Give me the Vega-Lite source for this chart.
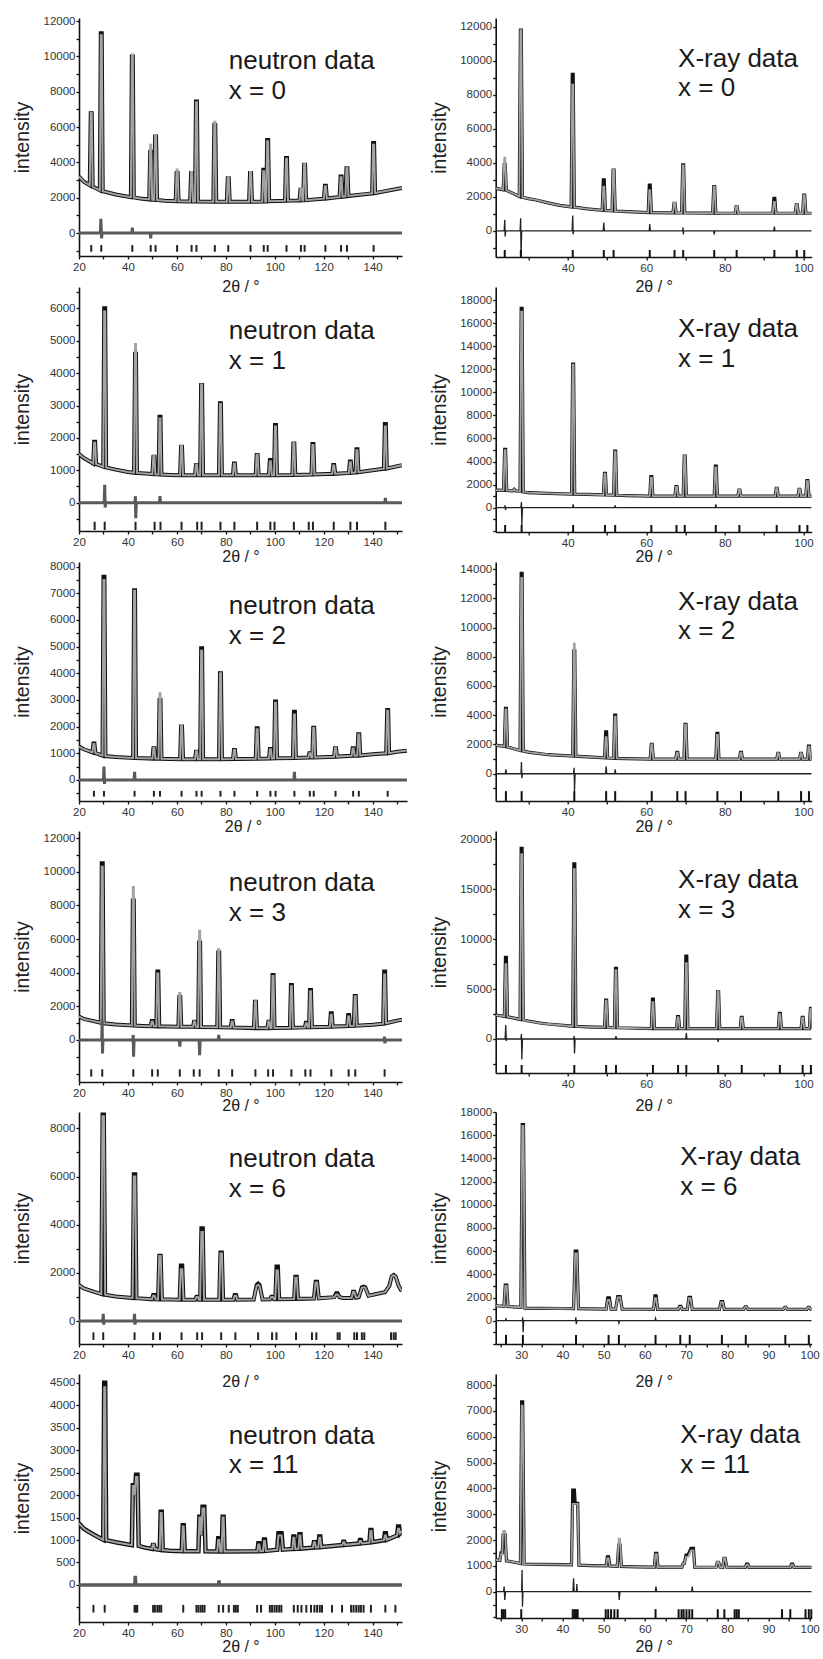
{
"$schema": "https://vega.github.io/schema/vega-lite/v6.json",
"background": "white",
"padding": {"left": 12, "top": 15, "right": 5, "bottom": 5},
"config": {
 "view": {"stroke": null},
 "axis": {"domainColor": "#111", "domainWidth": 1.6, "tickColor": "#111", "tickWidth": 1.3, "tickSize": 3, "labelFont": "Liberation Sans", "labelFontSize": 11.5, "labelColor": "#333", "labelPadding": 1, "labelFlush": false, "labelOverlap": false, "titleFont": "Liberation Sans", "titleFontWeight": "normal", "titleColor": "#222", "grid": false},
 "axisX": {"titleFontSize": 16, "labelPadding": 2, "titleBaseline": "middle"},
 "axisY": {"titleFontSize": 19.5},
 "text": {"font": "Liberation Sans", "fontSize": 26, "color": "#1a1a1a", "align": "left", "baseline": "alphabetic", "lineBreak": "\n", "lineHeight": 29.5}
},
"columns": 2,
"align": "each",
"bounds": "flush",
"spacing": {"row": 30, "column": 88.7},
"datasets": {
"n0": [{"x":20,"o":3200,"c":3200},{"x":22,"o":2900,"c":2900},{"x":24.4,"o":2700,"c":2700},{"x":24.8,"o":6780,"c":6800},{"x":25.2,"o":6780,"c":6800},{"x":25.6,"o":2630,"c":2630},{"x":28.5,"o":2420,"c":2420},{"x":28.9,"o":11300,"c":11200},{"x":29.3,"o":11300,"c":11200},{"x":29.7,"o":2370,"c":2370},{"x":35,"o":2180,"c":2180},{"x":41.2,"o":2030,"c":2030},{"x":41.6,"o":9990,"c":10100},{"x":42,"o":9990,"c":10100},{"x":42.4,"o":2020,"c":2020},{"x":45,"o":1950,"c":1950},{"x":48.7,"o":1900,"c":1900},{"x":49.1,"o":4600,"c":5000},{"x":49.5,"o":4600,"c":5000},{"x":49.9,"o":1890,"c":1890},{"x":50.7,"o":1880,"c":1880},{"x":51.1,"o":5460,"c":5500},{"x":51.5,"o":5460,"c":5500},{"x":51.9,"o":1870,"c":1870},{"x":55,"o":1830,"c":1830},{"x":59.5,"o":1800,"c":1800},{"x":59.9,"o":3400,"c":3600},{"x":60.3,"o":3400,"c":3600},{"x":60.7,"o":1800,"c":1800},{"x":65.4,"o":1785,"c":1785},{"x":65.8,"o":3400,"c":3450},{"x":66.2,"o":3400,"c":3450},{"x":66.6,"o":1785,"c":1785},{"x":67.4,"o":1783,"c":1783},{"x":67.8,"o":7440,"c":7400},{"x":68.2,"o":7440,"c":7400},{"x":68.6,"o":1782,"c":1782},{"x":74.9,"o":1775,"c":1775},{"x":75.3,"o":6120,"c":6300},{"x":75.7,"o":6120,"c":6300},{"x":76.1,"o":1775,"c":1775},{"x":80.4,"o":1770,"c":1770},{"x":80.8,"o":3100,"c":3150},{"x":81.2,"o":3100,"c":3150},{"x":81.6,"o":1770,"c":1770},{"x":89.5,"o":1770,"c":1770},{"x":89.9,"o":3400,"c":3450},{"x":90.3,"o":3400,"c":3450},{"x":90.7,"o":1770,"c":1770},{"x":94.9,"o":1785,"c":1785},{"x":95.3,"o":3580,"c":3500},{"x":95.7,"o":3580,"c":3500},{"x":96.1,"o":1790,"c":1790},{"x":96.5,"o":1790,"c":1790},{"x":96.9,"o":5270,"c":5200},{"x":97.3,"o":5270,"c":5200},{"x":97.7,"o":1795,"c":1795},{"x":104.2,"o":1820,"c":1820},{"x":104.6,"o":4240,"c":4200},{"x":105,"o":4240,"c":4200},{"x":105.4,"o":1825,"c":1825},{"x":110.1,"o":1848,"c":1848},{"x":110.5,"o":2450,"c":2500},{"x":110.9,"o":2450,"c":2500},{"x":111.3,"o":1852,"c":1852},{"x":111.6,"o":1855,"c":1855},{"x":112,"o":3860,"c":3900},{"x":112.4,"o":3860,"c":3900},{"x":112.8,"o":1860,"c":1860},{"x":120.1,"o":1945,"c":1945},{"x":120.5,"o":2680,"c":2650},{"x":120.9,"o":2680,"c":2650},{"x":121.3,"o":1955,"c":1955},{"x":126.5,"o":2040,"c":2040},{"x":126.9,"o":3200,"c":3150},{"x":127.3,"o":3200,"c":3150},{"x":127.7,"o":2055,"c":2055},{"x":128.9,"o":2075,"c":2075},{"x":129.3,"o":3670,"c":3700},{"x":129.7,"o":3670,"c":3700},{"x":130.1,"o":2100,"c":2100},{"x":139.8,"o":2245,"c":2245},{"x":140.2,"o":5090,"c":5000},{"x":140.6,"o":5090,"c":5000},{"x":141,"o":2260,"c":2260},{"x":152,"o":2550,"c":2550}],
"x0": [{"x":21.7,"o":2500,"c":2500},{"x":23.6,"o":2420,"c":2420},{"x":23.88,"o":3900,"c":4300},{"x":24.12,"o":3900,"c":4300},{"x":24.4,"o":2390,"c":2390},{"x":27.7,"o":2030,"c":2030},{"x":27.98,"o":11800,"c":11800},{"x":28.22,"o":11800,"c":11800},{"x":28.5,"o":1980,"c":1980},{"x":30,"o":1900,"c":1900},{"x":32,"o":1820,"c":1820},{"x":35,"o":1650,"c":1650},{"x":38,"o":1500,"c":1500},{"x":40.9,"o":1410,"c":1410},{"x":41.18,"o":9200,"c":8600},{"x":41.42,"o":9200,"c":8600},{"x":41.7,"o":1400,"c":1400},{"x":45,"o":1300,"c":1300},{"x":48.8,"o":1210,"c":1210},{"x":49.08,"o":3000,"c":2600},{"x":49.32,"o":3000,"c":2600},{"x":49.6,"o":1200,"c":1200},{"x":51.3,"o":1180,"c":1180},{"x":51.58,"o":3580,"c":3600},{"x":51.82,"o":3580,"c":3600},{"x":52.1,"o":1170,"c":1170},{"x":55,"o":1130,"c":1130},{"x":60.5,"o":1080,"c":1080},{"x":60.78,"o":2700,"c":2400},{"x":61.02,"o":2700,"c":2400},{"x":61.3,"o":1078,"c":1078},{"x":66.8,"o":1060,"c":1060},{"x":67.08,"o":1620,"c":1650},{"x":67.32,"o":1620,"c":1650},{"x":67.6,"o":1058,"c":1058},{"x":69,"o":1055,"c":1055},{"x":69.28,"o":3880,"c":3850},{"x":69.52,"o":3880,"c":3850},{"x":69.8,"o":1054,"c":1054},{"x":76.9,"o":1045,"c":1045},{"x":77.18,"o":2600,"c":2600},{"x":77.42,"o":2600,"c":2600},{"x":77.7,"o":1044,"c":1044},{"x":82.6,"o":1040,"c":1040},{"x":82.88,"o":1430,"c":1450},{"x":83.12,"o":1430,"c":1450},{"x":83.4,"o":1040,"c":1040},{"x":92.2,"o":1040,"c":1040},{"x":92.48,"o":1920,"c":1700},{"x":92.72,"o":1920,"c":1700},{"x":93,"o":1040,"c":1040},{"x":97.9,"o":1040,"c":1040},{"x":98.18,"o":1530,"c":1550},{"x":98.42,"o":1530,"c":1550},{"x":98.7,"o":1040,"c":1040},{"x":99.8,"o":1040,"c":1040},{"x":100.08,"o":2110,"c":2100},{"x":100.32,"o":2110,"c":2100},{"x":100.6,"o":1040,"c":1040},{"x":102.1,"o":1040,"c":1040}],
"n1": [{"x":20,"o":1500,"c":1500},{"x":22,"o":1380,"c":1380},{"x":25.8,"o":1210,"c":1210},{"x":26.2,"o":1880,"c":1850},{"x":26.6,"o":1880,"c":1850},{"x":27,"o":1190,"c":1190},{"x":29.9,"o":1110,"c":1110},{"x":30.3,"o":6000,"c":5900},{"x":30.7,"o":6000,"c":5900},{"x":31.1,"o":1090,"c":1090},{"x":35,"o":1020,"c":1020},{"x":40,"o":950,"c":950},{"x":42.5,"o":925,"c":925},{"x":42.9,"o":4600,"c":4900},{"x":43.3,"o":4600,"c":4900},{"x":43.7,"o":918,"c":918},{"x":47,"o":900,"c":900},{"x":50,"o":882,"c":882},{"x":50.4,"o":1420,"c":1450},{"x":50.8,"o":1420,"c":1450},{"x":51.2,"o":878,"c":878},{"x":52.5,"o":872,"c":872},{"x":52.9,"o":2650,"c":2600},{"x":53.3,"o":2650,"c":2600},{"x":53.7,"o":868,"c":868},{"x":57,"o":858,"c":858},{"x":61.3,"o":850,"c":850},{"x":61.7,"o":1730,"c":1750},{"x":62.1,"o":1730,"c":1750},{"x":62.5,"o":850,"c":850},{"x":67.4,"o":848,"c":848},{"x":67.8,"o":1160,"c":1180},{"x":68.2,"o":1160,"c":1180},{"x":68.6,"o":848,"c":848},{"x":69.5,"o":848,"c":848},{"x":69.9,"o":3630,"c":3650},{"x":70.3,"o":3630,"c":3650},{"x":70.7,"o":847,"c":847},{"x":77.2,"o":846,"c":846},{"x":77.6,"o":3070,"c":3050},{"x":78,"o":3070,"c":3050},{"x":78.4,"o":845,"c":845},{"x":82.9,"o":845,"c":845},{"x":83.3,"o":1210,"c":1200},{"x":83.7,"o":1210,"c":1200},{"x":84.1,"o":845,"c":845},{"x":92.2,"o":847,"c":847},{"x":92.6,"o":1470,"c":1480},{"x":93,"o":1470,"c":1480},{"x":93.4,"o":847,"c":847},{"x":97.6,"o":849,"c":849},{"x":98,"o":1320,"c":1280},{"x":98.4,"o":1320,"c":1280},{"x":98.8,"o":849,"c":849},{"x":99.7,"o":850,"c":850},{"x":100.1,"o":2400,"c":2350},{"x":100.5,"o":2400,"c":2350},{"x":100.9,"o":850,"c":850},{"x":107.2,"o":856,"c":856},{"x":107.6,"o":1830,"c":1850},{"x":108,"o":1830,"c":1850},{"x":108.4,"o":857,"c":857},{"x":115,"o":868,"c":868},{"x":115.4,"o":1810,"c":1780},{"x":115.8,"o":1810,"c":1780},{"x":116.2,"o":870,"c":870},{"x":123.5,"o":890,"c":890},{"x":123.9,"o":1160,"c":1150},{"x":124.3,"o":1160,"c":1150},{"x":124.7,"o":892,"c":892},{"x":130.3,"o":918,"c":918},{"x":130.7,"o":1270,"c":1250},{"x":131.1,"o":1270,"c":1250},{"x":131.5,"o":922,"c":922},{"x":133,"o":935,"c":935},{"x":133.4,"o":1650,"c":1620},{"x":133.8,"o":1650,"c":1620},{"x":134.2,"o":940,"c":940},{"x":140,"o":1000,"c":1000},{"x":144.6,"o":1050,"c":1050},{"x":145,"o":2430,"c":2350},{"x":145.4,"o":2430,"c":2350},{"x":145.8,"o":1058,"c":1058},{"x":152,"o":1160,"c":1160}],
"x1": [{"x":21.7,"o":1530,"c":1530},{"x":23.7,"o":1505,"c":1505},{"x":23.98,"o":5060,"c":5000},{"x":24.22,"o":5060,"c":5000},{"x":24.5,"o":1495,"c":1495},{"x":26,"o":1465,"c":1465},{"x":26.4,"o":1600,"c":1600},{"x":26.8,"o":1455,"c":1455},{"x":27.9,"o":1440,"c":1440},{"x":28.18,"o":17280,"c":17000},{"x":28.42,"o":17280,"c":17000},{"x":28.7,"o":1380,"c":1380},{"x":30,"o":1300,"c":1300},{"x":35,"o":1250,"c":1250},{"x":41,"o":1190,"c":1190},{"x":41.28,"o":12450,"c":12400},{"x":41.52,"o":12450,"c":12400},{"x":41.8,"o":1180,"c":1180},{"x":45,"o":1150,"c":1150},{"x":49.1,"o":1105,"c":1105},{"x":49.38,"o":2980,"c":2950},{"x":49.62,"o":2980,"c":2950},{"x":49.9,"o":1100,"c":1100},{"x":51.7,"o":1085,"c":1085},{"x":51.98,"o":4910,"c":4850},{"x":52.22,"o":4910,"c":4850},{"x":52.5,"o":1080,"c":1080},{"x":55,"o":1050,"c":1050},{"x":60.9,"o":1010,"c":1010},{"x":61.18,"o":2690,"c":2600},{"x":61.42,"o":2690,"c":2600},{"x":61.7,"o":1010,"c":1010},{"x":67.3,"o":1010,"c":1010},{"x":67.58,"o":1820,"c":1800},{"x":67.82,"o":1820,"c":1800},{"x":68.1,"o":1010,"c":1010},{"x":69.4,"o":1010,"c":1010},{"x":69.68,"o":4480,"c":4500},{"x":69.92,"o":4480,"c":4500},{"x":70.2,"o":1010,"c":1010},{"x":77.3,"o":1010,"c":1010},{"x":77.58,"o":3610,"c":3500},{"x":77.82,"o":3610,"c":3500},{"x":78.1,"o":1010,"c":1010},{"x":83.3,"o":1010,"c":1010},{"x":83.58,"o":1530,"c":1550},{"x":83.82,"o":1530,"c":1550},{"x":84.1,"o":1010,"c":1010},{"x":92.8,"o":1010,"c":1010},{"x":93.08,"o":1680,"c":1700},{"x":93.32,"o":1680,"c":1700},{"x":93.6,"o":1010,"c":1010},{"x":98.6,"o":1010,"c":1010},{"x":98.88,"o":1590,"c":1600},{"x":99.12,"o":1590,"c":1600},{"x":99.4,"o":1010,"c":1010},{"x":100.6,"o":1010,"c":1010},{"x":100.88,"o":2340,"c":2300},{"x":101.12,"o":2340,"c":2300},{"x":101.4,"o":1010,"c":1010},{"x":102.1,"o":1010,"c":1010}],
"n2": [{"x":20,"o":1250,"c":1250},{"x":22,"o":1150,"c":1150},{"x":25.5,"o":1030,"c":1030},{"x":25.9,"o":1370,"c":1350},{"x":26.3,"o":1370,"c":1350},{"x":26.7,"o":1010,"c":1010},{"x":29.6,"o":910,"c":910},{"x":30,"o":7620,"c":7500},{"x":30.4,"o":7620,"c":7500},{"x":30.8,"o":895,"c":895},{"x":35,"o":860,"c":860},{"x":42.1,"o":825,"c":825},{"x":42.5,"o":7120,"c":7100},{"x":42.9,"o":7120,"c":7100},{"x":43.3,"o":822,"c":822},{"x":46,"o":812,"c":812},{"x":50,"o":801,"c":801},{"x":50.4,"o":1190,"c":1200},{"x":50.8,"o":1190,"c":1200},{"x":51.2,"o":799,"c":799},{"x":52.5,"o":796,"c":796},{"x":52.9,"o":3000,"c":3250},{"x":53.3,"o":3000,"c":3250},{"x":53.7,"o":794,"c":794},{"x":57,"o":786,"c":786},{"x":61.3,"o":780,"c":780},{"x":61.7,"o":2000,"c":2050},{"x":62.1,"o":2000,"c":2050},{"x":62.5,"o":780,"c":780},{"x":67.4,"o":780,"c":780},{"x":67.8,"o":1060,"c":1080},{"x":68.2,"o":1060,"c":1080},{"x":68.6,"o":780,"c":780},{"x":69.5,"o":780,"c":780},{"x":69.9,"o":4940,"c":4850},{"x":70.3,"o":4940,"c":4850},{"x":70.7,"o":780,"c":780},{"x":77.2,"o":780,"c":780},{"x":77.6,"o":4000,"c":4000},{"x":78,"o":4000,"c":4000},{"x":78.4,"o":780,"c":780},{"x":82.9,"o":782,"c":782},{"x":83.3,"o":1120,"c":1120},{"x":83.7,"o":1120,"c":1120},{"x":84.1,"o":783,"c":783},{"x":92.2,"o":792,"c":792},{"x":92.6,"o":1940,"c":1900},{"x":93,"o":1940,"c":1900},{"x":93.4,"o":793,"c":793},{"x":97.6,"o":806,"c":806},{"x":98,"o":1160,"c":1150},{"x":98.4,"o":1160,"c":1150},{"x":98.8,"o":808,"c":808},{"x":99.7,"o":810,"c":810},{"x":100.1,"o":2940,"c":2900},{"x":100.5,"o":2940,"c":2900},{"x":100.9,"o":811,"c":811},{"x":107.4,"o":824,"c":824},{"x":107.8,"o":2560,"c":2450},{"x":108.2,"o":2560,"c":2450},{"x":108.6,"o":826,"c":826},{"x":113.7,"o":838,"c":838},{"x":114.1,"o":1000,"c":1000},{"x":114.5,"o":1000,"c":1000},{"x":114.9,"o":841,"c":841},{"x":115.3,"o":843,"c":843},{"x":115.7,"o":1960,"c":1950},{"x":116.1,"o":1960,"c":1950},{"x":116.5,"o":845,"c":845},{"x":124.2,"o":872,"c":872},{"x":124.6,"o":1190,"c":1200},{"x":125,"o":1190,"c":1200},{"x":125.4,"o":875,"c":875},{"x":131.4,"o":905,"c":905},{"x":131.8,"o":1190,"c":1180},{"x":132.2,"o":1190,"c":1180},{"x":132.6,"o":908,"c":908},{"x":133.7,"o":915,"c":915},{"x":134.1,"o":1710,"c":1700},{"x":134.5,"o":1710,"c":1700},{"x":134.9,"o":918,"c":918},{"x":140,"o":960,"c":960},{"x":145.5,"o":998,"c":998},{"x":145.9,"o":2620,"c":2600},{"x":146.3,"o":2620,"c":2600},{"x":146.7,"o":1005,"c":1005},{"x":150,"o":1060,"c":1060},{"x":154,"o":1100,"c":1100}],
"x2": [{"x":21.7,"o":1960,"c":1960},{"x":23.9,"o":1870,"c":1870},{"x":24.18,"o":4470,"c":4400},{"x":24.42,"o":4470,"c":4400},{"x":24.7,"o":1830,"c":1830},{"x":27.9,"o":1590,"c":1590},{"x":28.18,"o":13700,"c":13400},{"x":28.42,"o":13700,"c":13400},{"x":28.7,"o":1560,"c":1560},{"x":30,"o":1480,"c":1480},{"x":35,"o":1300,"c":1300},{"x":41.3,"o":1210,"c":1210},{"x":41.58,"o":8400,"c":8900},{"x":41.82,"o":8400,"c":8900},{"x":42.1,"o":1200,"c":1200},{"x":45,"o":1150,"c":1150},{"x":49.4,"o":1090,"c":1090},{"x":49.68,"o":2870,"c":2500},{"x":49.92,"o":2870,"c":2500},{"x":50.2,"o":1075,"c":1075},{"x":51.7,"o":1055,"c":1055},{"x":51.98,"o":4010,"c":3900},{"x":52.22,"o":4010,"c":3900},{"x":52.5,"o":1050,"c":1050},{"x":55,"o":1030,"c":1030},{"x":61,"o":1000,"c":1000},{"x":61.28,"o":2010,"c":2000},{"x":61.52,"o":2010,"c":2000},{"x":61.8,"o":1000,"c":1000},{"x":67.5,"o":1000,"c":1000},{"x":67.78,"o":1460,"c":1450},{"x":68.02,"o":1460,"c":1450},{"x":68.3,"o":1000,"c":1000},{"x":69.6,"o":1000,"c":1000},{"x":69.88,"o":3370,"c":3350},{"x":70.12,"o":3370,"c":3350},{"x":70.4,"o":1000,"c":1000},{"x":77.7,"o":1000,"c":1000},{"x":77.98,"o":2760,"c":2650},{"x":78.22,"o":2760,"c":2650},{"x":78.5,"o":1000,"c":1000},{"x":83.7,"o":1000,"c":1000},{"x":83.98,"o":1460,"c":1450},{"x":84.22,"o":1460,"c":1450},{"x":84.5,"o":1000,"c":1000},{"x":93.2,"o":1000,"c":1000},{"x":93.48,"o":1390,"c":1400},{"x":93.72,"o":1390,"c":1400},{"x":94,"o":1000,"c":1000},{"x":99,"o":1000,"c":1000},{"x":99.28,"o":1390,"c":1400},{"x":99.52,"o":1390,"c":1400},{"x":99.8,"o":1000,"c":1000},{"x":101,"o":1000,"c":1000},{"x":101.28,"o":1890,"c":1850},{"x":101.52,"o":1890,"c":1850},{"x":101.8,"o":1000,"c":1000},{"x":102.1,"o":1000,"c":1000}],
"n3": [{"x":20,"o":1390,"c":1390},{"x":22,"o":1250,"c":1250},{"x":25,"o":1150,"c":1150},{"x":28.9,"o":1020,"c":1020},{"x":29.3,"o":10510,"c":10300},{"x":29.7,"o":10510,"c":10300},{"x":30.1,"o":990,"c":990},{"x":35,"o":920,"c":920},{"x":41.6,"o":865,"c":865},{"x":42,"o":8300,"c":9100},{"x":42.4,"o":8300,"c":9100},{"x":42.8,"o":855,"c":855},{"x":46,"o":835,"c":835},{"x":49.3,"o":815,"c":815},{"x":49.7,"o":1130,"c":1100},{"x":50.1,"o":1130,"c":1100},{"x":50.5,"o":812,"c":812},{"x":51.6,"o":810,"c":810},{"x":52,"o":4070,"c":3950},{"x":52.4,"o":4070,"c":3950},{"x":52.8,"o":808,"c":808},{"x":56,"o":800,"c":800},{"x":60.6,"o":790,"c":790},{"x":61,"o":2550,"c":2800},{"x":61.4,"o":2550,"c":2800},{"x":61.8,"o":789,"c":789},{"x":66.6,"o":781,"c":781},{"x":67,"o":1090,"c":1100},{"x":67.4,"o":1090,"c":1100},{"x":67.8,"o":779,"c":779},{"x":68.7,"o":777,"c":777},{"x":69.1,"o":5800,"c":6500},{"x":69.5,"o":5800,"c":6500},{"x":69.9,"o":775,"c":775},{"x":76.5,"o":758,"c":758},{"x":76.9,"o":5200,"c":5400},{"x":77.3,"o":5200,"c":5400},{"x":77.7,"o":756,"c":756},{"x":82,"o":745,"c":745},{"x":82.4,"o":1130,"c":1100},{"x":82.8,"o":1130,"c":1100},{"x":83.2,"o":743,"c":743},{"x":91.5,"o":707,"c":707},{"x":91.9,"o":2280,"c":2300},{"x":92.3,"o":2280,"c":2300},{"x":92.7,"o":705,"c":705},{"x":97,"o":702,"c":702},{"x":97.4,"o":1090,"c":1100},{"x":97.8,"o":1090,"c":1100},{"x":98.2,"o":704,"c":704},{"x":98.7,"o":706,"c":706},{"x":99.1,"o":3870,"c":3800},{"x":99.5,"o":3870,"c":3800},{"x":99.9,"o":709,"c":709},{"x":106.2,"o":728,"c":728},{"x":106.6,"o":3270,"c":3200},{"x":107,"o":3270,"c":3200},{"x":107.4,"o":731,"c":731},{"x":112.3,"o":748,"c":748},{"x":112.7,"o":1030,"c":1000},{"x":113.1,"o":1030,"c":1000},{"x":113.5,"o":752,"c":752},{"x":114,"o":754,"c":754},{"x":114.4,"o":2970,"c":2900},{"x":114.8,"o":2970,"c":2900},{"x":115.2,"o":757,"c":757},{"x":122.5,"o":790,"c":790},{"x":122.9,"o":1590,"c":1500},{"x":123.3,"o":1590,"c":1500},{"x":123.7,"o":795,"c":795},{"x":129.6,"o":827,"c":827},{"x":130,"o":1490,"c":1400},{"x":130.4,"o":1490,"c":1400},{"x":130.8,"o":832,"c":832},{"x":132.3,"o":845,"c":845},{"x":132.7,"o":2620,"c":2600},{"x":133.1,"o":2620,"c":2600},{"x":133.5,"o":850,"c":850},{"x":140,"o":900,"c":900},{"x":144.3,"o":970,"c":970},{"x":144.7,"o":4070,"c":3900},{"x":145.1,"o":4070,"c":3900},{"x":145.5,"o":990,"c":990},{"x":148,"o":1080,"c":1080},{"x":150,"o":1150,"c":1150},{"x":152,"o":1200,"c":1200}],
"x3": [{"x":21.7,"o":2400,"c":2400},{"x":23.9,"o":2270,"c":2270},{"x":24.18,"o":8180,"c":7500},{"x":24.42,"o":8180,"c":7500},{"x":24.7,"o":2220,"c":2220},{"x":27.9,"o":1960,"c":1960},{"x":28.18,"o":19100,"c":18500},{"x":28.42,"o":19100,"c":18500},{"x":28.7,"o":1920,"c":1920},{"x":30,"o":1800,"c":1800},{"x":33,"o":1600,"c":1600},{"x":35,"o":1500,"c":1500},{"x":41.3,"o":1280,"c":1280},{"x":41.58,"o":17530,"c":17000},{"x":41.82,"o":17530,"c":17000},{"x":42.1,"o":1270,"c":1270},{"x":45,"o":1220,"c":1220},{"x":49.4,"o":1160,"c":1160},{"x":49.68,"o":3900,"c":3850},{"x":49.92,"o":3900,"c":3850},{"x":50.2,"o":1150,"c":1150},{"x":51.9,"o":1130,"c":1130},{"x":52.18,"o":7080,"c":6900},{"x":52.42,"o":7080,"c":6900},{"x":52.7,"o":1125,"c":1125},{"x":55,"o":1100,"c":1100},{"x":61.3,"o":1048,"c":1048},{"x":61.58,"o":4000,"c":3700},{"x":61.82,"o":4000,"c":3700},{"x":62.1,"o":1046,"c":1046},{"x":67.7,"o":1040,"c":1040},{"x":67.98,"o":2240,"c":2200},{"x":68.22,"o":2240,"c":2200},{"x":68.5,"o":1040,"c":1040},{"x":69.8,"o":1040,"c":1040},{"x":70.08,"o":8310,"c":7600},{"x":70.32,"o":8310,"c":7600},{"x":70.6,"o":1040,"c":1040},{"x":77.9,"o":1035,"c":1035},{"x":78.18,"o":4740,"c":4800},{"x":78.42,"o":4740,"c":4800},{"x":78.7,"o":1035,"c":1035},{"x":83.9,"o":1032,"c":1032},{"x":84.18,"o":2170,"c":2150},{"x":84.42,"o":2170,"c":2150},{"x":84.7,"o":1032,"c":1032},{"x":93.6,"o":1030,"c":1030},{"x":93.88,"o":2570,"c":2500},{"x":94.12,"o":2570,"c":2500},{"x":94.4,"o":1030,"c":1030},{"x":99.4,"o":1030,"c":1030},{"x":99.68,"o":2170,"c":2150},{"x":99.92,"o":2170,"c":2150},{"x":100.2,"o":1030,"c":1030},{"x":101.5,"o":1030,"c":1030},{"x":101.78,"o":3070,"c":3050},{"x":102.02,"o":3070,"c":3050},{"x":102.3,"o":1030,"c":1030}],
"n6": [{"x":20,"o":1490,"c":1490},{"x":22,"o":1350,"c":1350},{"x":25,"o":1250,"c":1250},{"x":29.1,"o":1120,"c":1120},{"x":29.6,"o":8580,"c":8500},{"x":30.2,"o":8580,"c":8500},{"x":30.7,"o":1090,"c":1090},{"x":35,"o":1020,"c":1020},{"x":41.9,"o":955,"c":955},{"x":42.4,"o":6090,"c":6000},{"x":43,"o":6090,"c":6000},{"x":43.5,"o":945,"c":945},{"x":47,"o":920,"c":920},{"x":49.8,"o":902,"c":902},{"x":50.3,"o":1080,"c":1050},{"x":50.9,"o":1080,"c":1050},{"x":51.4,"o":898,"c":898},{"x":52.3,"o":895,"c":895},{"x":52.8,"o":2710,"c":2700},{"x":53.4,"o":2710,"c":2700},{"x":53.9,"o":892,"c":892},{"x":57,"o":888,"c":888},{"x":61.1,"o":882,"c":882},{"x":61.6,"o":2300,"c":2150},{"x":62.2,"o":2300,"c":2150},{"x":62.7,"o":881,"c":881},{"x":67.5,"o":880,"c":880},{"x":68,"o":1010,"c":1000},{"x":68.6,"o":1010,"c":1000},{"x":69,"o":880,"c":880},{"x":69.5,"o":880,"c":880},{"x":70,"o":3850,"c":3700},{"x":70.6,"o":3850,"c":3700},{"x":71.1,"o":880,"c":880},{"x":77.3,"o":880,"c":880},{"x":77.8,"o":2850,"c":2800},{"x":78.4,"o":2850,"c":2800},{"x":78.9,"o":880,"c":880},{"x":83.1,"o":882,"c":882},{"x":83.6,"o":1080,"c":1050},{"x":84.2,"o":1080,"c":1050},{"x":84.7,"o":883,"c":883},{"x":91.4,"o":890,"c":890},{"x":92.6,"o":1500,"c":1450},{"x":93.2,"o":1560,"c":1500},{"x":93.8,"o":1500,"c":1450},{"x":95,"o":892,"c":892},{"x":98.1,"o":898,"c":898},{"x":98.6,"o":1010,"c":1000},{"x":99.2,"o":1010,"c":1000},{"x":99.7,"o":900,"c":900},{"x":100.2,"o":900,"c":900},{"x":100.7,"o":2260,"c":2100},{"x":101.3,"o":2260,"c":2100},{"x":101.8,"o":901,"c":901},{"x":107.9,"o":915,"c":915},{"x":108.4,"o":1840,"c":1800},{"x":109,"o":1840,"c":1800},{"x":109.5,"o":920,"c":920},{"x":116,"o":935,"c":935},{"x":116.7,"o":1630,"c":1600},{"x":117.3,"o":1630,"c":1600},{"x":118,"o":942,"c":942},{"x":124.3,"o":990,"c":990},{"x":125.1,"o":1150,"c":1100},{"x":125.7,"o":1150,"c":1100},{"x":126.5,"o":990,"c":990},{"x":128,"o":960,"c":960},{"x":131.4,"o":955,"c":955},{"x":132,"o":1220,"c":1200},{"x":132.5,"o":1220,"c":1200},{"x":133.2,"o":970,"c":970},{"x":134.3,"o":990,"c":990},{"x":135.6,"o":1400,"c":1380},{"x":136.3,"o":1430,"c":1400},{"x":137,"o":1400,"c":1380},{"x":138.3,"o":1050,"c":1050},{"x":142,"o":1130,"c":1130},{"x":145,"o":1200,"c":1200},{"x":146.8,"o":1450,"c":1450},{"x":147.8,"o":1850,"c":1850},{"x":148.6,"o":1910,"c":1900},{"x":149.4,"o":1850,"c":1850},{"x":150.5,"o":1500,"c":1500},{"x":151.5,"o":1300,"c":1300},{"x":152,"o":1250,"c":1250}],
"x6": [{"x":23.8,"o":1290,"c":1290},{"x":25.8,"o":1240,"c":1240},{"x":26.12,"o":3070,"c":3000},{"x":26.48,"o":3070,"c":3000},{"x":26.8,"o":1225,"c":1225},{"x":28,"o":1200,"c":1200},{"x":29.9,"o":1160,"c":1160},{"x":30.25,"o":16910,"c":16800},{"x":30.55,"o":16910,"c":16800},{"x":30.9,"o":1085,"c":1085},{"x":35,"o":1060,"c":1060},{"x":40,"o":1050,"c":1050},{"x":42.7,"o":1040,"c":1040},{"x":43.1,"o":6000,"c":5800},{"x":43.5,"o":6000,"c":5800},{"x":43.9,"o":1035,"c":1035},{"x":47,"o":1020,"c":1020},{"x":50.6,"o":1000,"c":1000},{"x":51,"o":1980,"c":1800},{"x":51.4,"o":1980,"c":1800},{"x":51.8,"o":998,"c":998},{"x":52.9,"o":995,"c":995},{"x":53.4,"o":2070,"c":2000},{"x":54,"o":2070,"c":2000},{"x":54.5,"o":993,"c":993},{"x":58,"o":985,"c":985},{"x":62.1,"o":980,"c":980},{"x":62.45,"o":2150,"c":1950},{"x":62.75,"o":2150,"c":1950},{"x":63.1,"o":980,"c":980},{"x":68.1,"o":978,"c":978},{"x":68.45,"o":1230,"c":1200},{"x":68.75,"o":1230,"c":1200},{"x":69.1,"o":978,"c":978},{"x":70.3,"o":978,"c":978},{"x":70.7,"o":2010,"c":1950},{"x":71.1,"o":2010,"c":1950},{"x":71.5,"o":978,"c":978},{"x":78.1,"o":977,"c":977},{"x":78.5,"o":1640,"c":1600},{"x":78.9,"o":1640,"c":1600},{"x":79.3,"o":977,"c":977},{"x":84,"o":976,"c":976},{"x":84.35,"o":1200,"c":1200},{"x":84.65,"o":1200,"c":1200},{"x":85,"o":976,"c":976},{"x":93.6,"o":976,"c":976},{"x":93.95,"o":1150,"c":1150},{"x":94.25,"o":1150,"c":1150},{"x":94.6,"o":976,"c":976},{"x":99.3,"o":976,"c":976},{"x":99.65,"o":1150,"c":1150},{"x":99.95,"o":1150,"c":1150},{"x":100.3,"o":976,"c":976},{"x":100.5,"o":976,"c":976}],
"n11": [{"x":20,"o":1370,"c":1370},{"x":22,"o":1250,"c":1250},{"x":25,"o":1150,"c":1150},{"x":28,"o":1060,"c":1060},{"x":29.9,"o":1005,"c":1005},{"x":30.3,"o":4500,"c":4400},{"x":30.7,"o":4500,"c":4400},{"x":31.1,"o":995,"c":995},{"x":35,"o":950,"c":950},{"x":40,"o":900,"c":900},{"x":41.6,"o":885,"c":885},{"x":42,"o":2220,"c":2200},{"x":42.4,"o":2220,"c":2200},{"x":42.8,"o":2000,"c":2000},{"x":43.3,"o":2450,"c":2400},{"x":43.9,"o":2450,"c":2400},{"x":44.4,"o":870,"c":870},{"x":47,"o":830,"c":830},{"x":49.8,"o":802,"c":802},{"x":50.2,"o":890,"c":900},{"x":50.6,"o":890,"c":900},{"x":51,"o":798,"c":798},{"x":53,"o":780,"c":780},{"x":53.4,"o":1630,"c":1600},{"x":53.8,"o":1630,"c":1600},{"x":54.2,"o":775,"c":775},{"x":57,"o":762,"c":762},{"x":62,"o":750,"c":750},{"x":62.4,"o":1330,"c":1300},{"x":62.8,"o":1330,"c":1300},{"x":63.2,"o":750,"c":750},{"x":68.8,"o":748,"c":748},{"x":69.2,"o":1520,"c":1500},{"x":69.6,"o":1520,"c":1500},{"x":70,"o":1100,"c":1100},{"x":70.5,"o":1740,"c":1700},{"x":71.2,"o":1740,"c":1700},{"x":71.7,"o":748,"c":748},{"x":76.5,"o":746,"c":746},{"x":76.9,"o":1040,"c":1000},{"x":77.3,"o":1040,"c":1000},{"x":77.8,"o":746,"c":746},{"x":78.3,"o":746,"c":746},{"x":78.7,"o":1520,"c":1500},{"x":79.1,"o":1520,"c":1500},{"x":79.5,"o":746,"c":746},{"x":92.9,"o":750,"c":750},{"x":93.3,"o":930,"c":900},{"x":93.7,"o":930,"c":900},{"x":94.1,"o":752,"c":752},{"x":95.2,"o":755,"c":755},{"x":95.6,"o":1010,"c":980},{"x":96,"o":1010,"c":980},{"x":96.4,"o":758,"c":758},{"x":101,"o":782,"c":782},{"x":101.5,"o":1150,"c":1100},{"x":102.8,"o":1150,"c":1100},{"x":103.3,"o":786,"c":786},{"x":107.2,"o":800,"c":800},{"x":107.6,"o":1080,"c":1050},{"x":108,"o":1080,"c":1050},{"x":108.4,"o":802,"c":802},{"x":109.7,"o":806,"c":806},{"x":110.1,"o":1130,"c":1100},{"x":110.5,"o":1130,"c":1100},{"x":110.9,"o":810,"c":810},{"x":115.6,"o":830,"c":830},{"x":116,"o":950,"c":950},{"x":116.4,"o":950,"c":950},{"x":116.8,"o":834,"c":834},{"x":117.8,"o":838,"c":838},{"x":118.2,"o":1080,"c":1050},{"x":118.6,"o":1080,"c":1050},{"x":119,"o":842,"c":842},{"x":127.6,"o":888,"c":888},{"x":128,"o":960,"c":950},{"x":128.4,"o":960,"c":950},{"x":128.8,"o":892,"c":892},{"x":134.4,"o":920,"c":920},{"x":134.8,"o":1000,"c":980},{"x":135.2,"o":1000,"c":980},{"x":135.6,"o":925,"c":925},{"x":138.7,"o":945,"c":945},{"x":139.1,"o":1220,"c":1200},{"x":139.5,"o":1220,"c":1200},{"x":139.9,"o":952,"c":952},{"x":144.6,"o":995,"c":995},{"x":145,"o":1150,"c":1100},{"x":145.4,"o":1150,"c":1100},{"x":145.8,"o":1005,"c":1005},{"x":150,"o":1100,"c":1100},{"x":150.4,"o":1300,"c":1250},{"x":150.8,"o":1300,"c":1250},{"x":151.2,"o":1150,"c":1150},{"x":152,"o":1200,"c":1200}],
"x11": [{"x":23.8,"o":1230,"c":1230},{"x":24.8,"o":1210,"c":1210},{"x":25.1,"o":1500,"c":1450},{"x":25.4,"o":1500,"c":1450},{"x":25.6,"o":2200,"c":2350},{"x":26.1,"o":2200,"c":2350},{"x":26.4,"o":1195,"c":1195},{"x":28,"o":1150,"c":1150},{"x":29.8,"o":1090,"c":1090},{"x":30.1,"o":7350,"c":7200},{"x":30.35,"o":7350,"c":7200},{"x":30.7,"o":1070,"c":1070},{"x":35,"o":1060,"c":1060},{"x":40,"o":1050,"c":1050},{"x":42.2,"o":1040,"c":1040},{"x":42.5,"o":3930,"c":3400},{"x":42.9,"o":3930,"c":3400},{"x":43.1,"o":3420,"c":3400},{"x":43.7,"o":3420,"c":3400},{"x":44,"o":1025,"c":1025},{"x":47,"o":1010,"c":1010},{"x":50.6,"o":997,"c":997},{"x":50.9,"o":1350,"c":1300},{"x":51.2,"o":1350,"c":1300},{"x":51.5,"o":995,"c":995},{"x":53.3,"o":985,"c":985},{"x":53.65,"o":1800,"c":2050},{"x":54,"o":1800,"c":2050},{"x":54.3,"o":980,"c":980},{"x":58,"o":960,"c":960},{"x":62.3,"o":950,"c":950},{"x":62.6,"o":1480,"c":1450},{"x":62.9,"o":1480,"c":1450},{"x":63.2,"o":950,"c":950},{"x":69,"o":948,"c":948},{"x":69.3,"o":1100,"c":1100},{"x":69.6,"o":1100,"c":1100},{"x":70,"o":1420,"c":1350},{"x":70.5,"o":1420,"c":1350},{"x":71.2,"o":1680,"c":1600},{"x":71.8,"o":1680,"c":1600},{"x":72.1,"o":947,"c":947},{"x":77.3,"o":946,"c":946},{"x":77.6,"o":1140,"c":1150},{"x":77.9,"o":1140,"c":1150},{"x":78.3,"o":946,"c":946},{"x":78.9,"o":945,"c":945},{"x":79.2,"o":1290,"c":1300},{"x":79.5,"o":1290,"c":1300},{"x":79.9,"o":945,"c":945},{"x":84.4,"o":944,"c":944},{"x":84.7,"o":1070,"c":1050},{"x":85,"o":1070,"c":1050},{"x":85.3,"o":944,"c":944},{"x":95.3,"o":941,"c":941},{"x":95.6,"o":1070,"c":1050},{"x":95.9,"o":1070,"c":1050},{"x":96.2,"o":941,"c":941},{"x":100.5,"o":940,"c":940}],
"dn0": [{"x":20,"d":0},{"x":28.7,"d":0},{"x":28.95,"d":800},{"x":29.2,"d":-300},{"x":29.45,"d":0},{"x":41.6,"d":0},{"x":41.8,"d":300},{"x":42,"d":0},{"x":49.1,"d":0},{"x":49.3,"d":-300},{"x":49.5,"d":0},{"x":152,"d":0}],
"dx0": [{"x":21.7,"d":0},{"x":23.85,"d":0},{"x":24,"d":650},{"x":24.1,"d":-330},{"x":24.25,"d":0},{"x":27.9,"d":0},{"x":28.05,"d":740},{"x":28.15,"d":-1500},{"x":28.3,"d":0},{"x":41.15,"d":0},{"x":41.3,"d":900},{"x":41.4,"d":-200},{"x":41.55,"d":0},{"x":49.05,"d":0},{"x":49.2,"d":500},{"x":49.35,"d":0},{"x":60.75,"d":0},{"x":60.9,"d":400},{"x":61.05,"d":0},{"x":69.25,"d":0},{"x":69.35,"d":200},{"x":69.45,"d":-200},{"x":69.55,"d":0},{"x":77.15,"d":0},{"x":77.3,"d":-200},{"x":77.45,"d":0},{"x":92.45,"d":0},{"x":92.6,"d":250},{"x":92.75,"d":0},{"x":102.1,"d":0}],
"dn1": [{"x":20,"d":0},{"x":30.3,"d":0},{"x":30.5,"d":550},{"x":30.7,"d":-150},{"x":30.9,"d":0},{"x":42.9,"d":0},{"x":43.05,"d":200},{"x":43.2,"d":-480},{"x":43.4,"d":0},{"x":52.9,"d":0},{"x":53.1,"d":200},{"x":53.3,"d":0},{"x":145,"d":0},{"x":145.2,"d":150},{"x":145.4,"d":0},{"x":152,"d":0}],
"dx1": [{"x":21.7,"d":0},{"x":23.95,"d":0},{"x":24.1,"d":200},{"x":24.2,"d":-200},{"x":24.35,"d":0},{"x":28.1,"d":0},{"x":28.25,"d":500},{"x":28.35,"d":-1500},{"x":28.5,"d":0},{"x":41.25,"d":0},{"x":41.4,"d":300},{"x":41.55,"d":0},{"x":51.95,"d":0},{"x":52.1,"d":200},{"x":52.25,"d":0},{"x":77.55,"d":0},{"x":77.7,"d":300},{"x":77.85,"d":0},{"x":102.1,"d":0}],
"dn2": [{"x":20,"d":0},{"x":30,"d":0},{"x":30.2,"d":500},{"x":30.4,"d":-150},{"x":30.6,"d":0},{"x":42.5,"d":0},{"x":42.7,"d":300},{"x":42.9,"d":0},{"x":107.8,"d":0},{"x":108,"d":300},{"x":108.2,"d":0},{"x":154,"d":0}],
"dx2": [{"x":21.7,"d":0},{"x":24.15,"d":0},{"x":24.3,"d":300},{"x":24.45,"d":0},{"x":28.15,"d":0},{"x":28.25,"d":800},{"x":28.35,"d":-300},{"x":28.5,"d":0},{"x":41.5,"d":0},{"x":41.65,"d":400},{"x":41.75,"d":-1200},{"x":41.9,"d":0},{"x":49.65,"d":0},{"x":49.8,"d":500},{"x":49.95,"d":0},{"x":51.95,"d":0},{"x":52.1,"d":300},{"x":52.25,"d":0},{"x":102.1,"d":0}],
"dn3": [{"x":20,"d":0},{"x":29.3,"d":0},{"x":29.45,"d":1200},{"x":29.6,"d":-800},{"x":29.8,"d":0},{"x":42,"d":0},{"x":42.15,"d":300},{"x":42.3,"d":-1000},{"x":42.5,"d":0},{"x":61,"d":0},{"x":61.2,"d":-400},{"x":61.4,"d":0},{"x":69.1,"d":0},{"x":69.3,"d":-900},{"x":69.5,"d":0},{"x":76.9,"d":0},{"x":77.1,"d":300},{"x":77.3,"d":0},{"x":144.7,"d":0},{"x":144.85,"d":200},{"x":145,"d":-200},{"x":145.2,"d":0},{"x":152,"d":0}],
"dx3": [{"x":21.7,"d":0},{"x":24.1,"d":0},{"x":24.25,"d":1400},{"x":24.4,"d":-200},{"x":24.5,"d":0},{"x":28.1,"d":0},{"x":28.25,"d":500},{"x":28.35,"d":-2040},{"x":28.5,"d":0},{"x":41.5,"d":0},{"x":41.65,"d":300},{"x":41.75,"d":-1440},{"x":41.9,"d":0},{"x":52.15,"d":0},{"x":52.3,"d":300},{"x":52.45,"d":0},{"x":70.05,"d":0},{"x":70.2,"d":600},{"x":70.35,"d":0},{"x":78.15,"d":0},{"x":78.3,"d":-300},{"x":78.45,"d":0},{"x":102.1,"d":0}],
"dn6": [{"x":20,"d":0},{"x":29.7,"d":0},{"x":29.9,"d":300},{"x":30.1,"d":-150},{"x":30.3,"d":0},{"x":42.5,"d":0},{"x":42.7,"d":300},{"x":42.9,"d":-150},{"x":43.1,"d":0},{"x":152,"d":0}],
"dx6": [{"x":23.8,"d":0},{"x":26.15,"d":0},{"x":26.3,"d":150},{"x":26.45,"d":0},{"x":30.25,"d":0},{"x":30.35,"d":300},{"x":30.45,"d":-1000},{"x":30.6,"d":0},{"x":43.15,"d":0},{"x":43.25,"d":300},{"x":43.35,"d":-300},{"x":43.5,"d":0},{"x":53.55,"d":0},{"x":53.7,"d":-200},{"x":53.85,"d":0},{"x":62.45,"d":0},{"x":62.6,"d":200},{"x":62.75,"d":0},{"x":100.5,"d":0}],
"dn11": [{"x":20,"d":0},{"x":42.8,"d":0},{"x":43,"d":200},{"x":43.2,"d":0},{"x":77,"d":0},{"x":77.2,"d":100},{"x":77.4,"d":0},{"x":152,"d":0}],
"dx11": [{"x":23.8,"d":0},{"x":25.7,"d":0},{"x":25.85,"d":200},{"x":26,"d":-320},{"x":26.2,"d":0},{"x":30.1,"d":0},{"x":30.2,"d":840},{"x":30.3,"d":-580},{"x":30.4,"d":0},{"x":42.55,"d":0},{"x":42.7,"d":520},{"x":42.85,"d":0},{"x":43.4,"d":0},{"x":43.5,"d":300},{"x":43.6,"d":0},{"x":53.65,"d":0},{"x":53.8,"d":-320},{"x":53.95,"d":0},{"x":62.55,"d":0},{"x":62.7,"d":200},{"x":62.85,"d":0},{"x":71.35,"d":0},{"x":71.5,"d":200},{"x":71.65,"d":0},{"x":100.5,"d":0}],
"tn0": [{"x":25.0},{"x":29.1},{"x":41.8},{"x":49.3},{"x":51.3},{"x":60.1},{"x":66.0},{"x":68.0},{"x":75.5},{"x":81.0},{"x":90.1},{"x":95.5},{"x":97.1},{"x":104.8},{"x":110.7},{"x":112.2},{"x":120.7},{"x":127.1},{"x":129.5},{"x":140.4}],
"tx0": [{"x":24.0},{"x":28.1},{"x":41.3},{"x":49.2},{"x":51.7},{"x":60.9},{"x":67.2},{"x":69.4},{"x":77.3},{"x":83.0},{"x":92.6},{"x":98.3},{"x":100.2}],
"tn1": [{"x":26.4},{"x":30.5},{"x":43.1},{"x":50.9},{"x":53.3},{"x":61.9},{"x":68.3},{"x":70.1},{"x":77.8},{"x":83.5},{"x":92.8},{"x":98.2},{"x":99.9},{"x":107.8},{"x":113.9},{"x":115.6},{"x":124.1},{"x":130.9},{"x":133.6},{"x":145.2}],
"tx1": [{"x":24.1},{"x":28.3},{"x":41.4},{"x":49.5},{"x":52.1},{"x":61.3},{"x":67.7},{"x":69.8},{"x":77.7},{"x":83.7},{"x":93.2},{"x":99.0},{"x":101.0}],
"tn2": [{"x":26.1},{"x":30.2},{"x":42.7},{"x":50.6},{"x":53.1},{"x":61.9},{"x":68.0},{"x":70.1},{"x":77.8},{"x":83.5},{"x":92.8},{"x":98.2},{"x":100.3},{"x":108.0},{"x":114.3},{"x":115.9},{"x":124.8},{"x":132.0},{"x":134.3},{"x":146.1}],
"tx2": [{"x":24.3},{"x":28.3},{"x":41.7},{"x":49.8},{"x":52.1},{"x":61.4},{"x":67.9},{"x":70.0},{"x":78.1},{"x":84.1},{"x":93.6},{"x":99.4},{"x":101.4}],
"tn3": [{"x":25.0},{"x":29.5},{"x":42.2},{"x":49.9},{"x":52.2},{"x":61.2},{"x":66.9},{"x":69.3},{"x":77.1},{"x":82.6},{"x":92.1},{"x":97.3},{"x":99.3},{"x":106.8},{"x":112.5},{"x":114.6},{"x":123.1},{"x":130.2},{"x":132.9},{"x":144.9}],
"tx3": [{"x":24.3},{"x":28.3},{"x":41.7},{"x":49.8},{"x":52.3},{"x":61.7},{"x":68.1},{"x":70.2},{"x":78.3},{"x":84.3},{"x":94.0},{"x":99.8},{"x":101.9}],
"tn6": [{"x":25.9},{"x":29.9},{"x":42.7},{"x":50.3},{"x":53.1},{"x":61.9},{"x":68.3},{"x":70.3},{"x":78.1},{"x":83.9},{"x":93.2},{"x":98.9},{"x":100.7},{"x":108.7},{"x":115.2},{"x":117.0},{"x":125.7},{"x":126.5},{"x":132.5},{"x":133.6},{"x":135.6},{"x":136.6},{"x":147.5},{"x":148.6},{"x":149.4}],
"tx6": [{"x":26.3},{"x":30.4},{"x":43.3},{"x":51.2},{"x":53.7},{"x":62.6},{"x":68.6},{"x":70.9},{"x":78.7},{"x":84.5},{"x":94.1},{"x":99.8}],
"tn11": [{"x":25.9},{"x":30.5},{"x":42.7},{"x":43.3},{"x":43.8},{"x":50.3},{"x":51.0},{"x":52.0},{"x":52.8},{"x":53.6},{"x":62.6},{"x":68.0},{"x":68.8},{"x":69.7},{"x":70.5},{"x":71.3},{"x":77.1},{"x":78.9},{"x":81.2},{"x":83.3},{"x":84.1},{"x":84.9},{"x":92.8},{"x":94.4},{"x":98.0},{"x":98.9},{"x":99.9},{"x":100.8},{"x":101.8},{"x":102.7},{"x":107.8},{"x":109.4},{"x":110.9},{"x":112.9},{"x":114.8},{"x":116.2},{"x":117.3},{"x":118.4},{"x":119.3},{"x":123.4},{"x":127.5},{"x":131.2},{"x":132.2},{"x":133.3},{"x":134.3},{"x":135.2},{"x":136.3},{"x":139.3},{"x":145.2},{"x":149.3}],
"tx11": [{"x":25.3},{"x":25.7},{"x":26.1},{"x":30.0},{"x":42.5},{"x":42.9},{"x":43.3},{"x":43.7},{"x":50.5},{"x":51.1},{"x":51.8},{"x":52.6},{"x":53.4},{"x":62.6},{"x":68.2},{"x":68.9},{"x":69.4},{"x":70.1},{"x":70.8},{"x":71.5},{"x":77.7},{"x":79.3},{"x":81.8},{"x":82.3},{"x":82.8},{"x":93.3},{"x":95.3},{"x":99.0},{"x":99.8},{"x":100.4}]
},
"concat": [
{"width": 323, "height": 238,
 "encoding": {"x": {"field": "x", "type": "quantitative", "scale": {"domain": [20, 152], "nice": false, "zero": false}, "axis": {"title": "2θ / °", "format": "d", "tickCount": 200, "labelOverlap": false, "values": [20,30,40,50,60,70,80,90,100,110,120,130,140,150], "labelExpr": "datum.value % 20 === 0 ? datum.label : ''", "titleX": 161.5, "titleY": 30.7}}},
 "layer": [
  {"data": {"name": "n0"}, "mark": {"type": "line", "color": "#111", "strokeWidth": 4, "clip": true}, "encoding": {"y": {"field": "o", "type": "quantitative", "scale": {"domain": [-1300, 12170], "nice": false, "zero": false}, "axis": {"title": "intensity", "format": "d", "tickCount": 200, "labelOverlap": false, "values": [-1000,0,1000,2000,3000,4000,5000,6000,7000,8000,9000,10000,11000,12000], "labelExpr": "datum.value >= 0 && datum.value % 2000 === 0 ? datum.label : ''", "titleX": -46.5, "titleY": 119}}}},
  {"data": {"name": "n0"}, "mark": {"type": "line", "color": "#a3a3a3", "strokeWidth": 2, "clip": true}, "encoding": {"y": {"field": "c", "type": "quantitative"}}},
  {"data": {"name": "dn0"}, "mark": {"type": "line", "color": "#5a5a5a", "strokeWidth": 3, "clip": true}, "encoding": {"y": {"field": "d", "type": "quantitative"}}},
  {"data": {"name": "tn0"}, "mark": {"type": "rule", "color": "#222", "strokeWidth": 2}, "encoding": {"y": {"datum": -680, "type": "quantitative"}, "y2": {"datum": -1060}}},
  {"data": {"values": [{"x": 81.2, "y": 9280, "t": "neutron data\nx = 0"}]}, "mark": {"type": "text"}, "encoding": {"y": {"field": "y", "type": "quantitative"}, "text": {"field": "t"}}}
 ]},
{"width": 316, "height": 239,
 "encoding": {"x": {"field": "x", "type": "quantitative", "scale": {"domain": [21.7, 102.1], "nice": false, "zero": false}, "axis": {"title": "2θ / °", "format": "d", "tickCount": 200, "labelOverlap": false, "values": [30,40,50,60,70,80,90,100], "labelExpr": "datum.value % 20 === 0 ? datum.label : ''", "titleX": 158, "titleY": 29.7}}},
 "layer": [
  {"data": {"name": "x0"}, "mark": {"type": "line", "color": "#111", "strokeWidth": 3.2, "clip": true}, "encoding": {"y": {"field": "o", "type": "quantitative", "scale": {"domain": [-1530, 12510], "nice": false, "zero": false}, "axis": {"title": "intensity", "format": "d", "tickCount": 200, "labelOverlap": false, "values": [-1000,0,1000,2000,3000,4000,5000,6000,7000,8000,9000,10000,11000,12000], "labelExpr": "datum.value >= 0 && datum.value % 2000 === 0 ? datum.label : ''", "titleX": -46.5, "titleY": 119.5}}}},
  {"data": {"name": "x0"}, "mark": {"type": "line", "color": "#a3a3a3", "strokeWidth": 1.8, "clip": true}, "encoding": {"y": {"field": "c", "type": "quantitative"}}},
  {"data": {"name": "dx0"}, "mark": {"type": "line", "color": "#222", "strokeWidth": 1.3, "clip": true}, "encoding": {"y": {"field": "d", "type": "quantitative"}}},
  {"data": {"name": "tx0"}, "mark": {"type": "rule", "color": "#111", "strokeWidth": 2}, "encoding": {"y": {"datum": -1120, "type": "quantitative"}, "y2": {"datum": -1530}}},
  {"data": {"values": [{"x": 68.1, "y": 9658, "t": "X-ray data\nx = 0"}]}, "mark": {"type": "text"}, "encoding": {"y": {"field": "y", "type": "quantitative"}, "text": {"field": "t"}}}
 ]},
{"width": 323, "height": 244,
 "encoding": {"x": {"field": "x", "type": "quantitative", "scale": {"domain": [20, 152], "nice": false, "zero": false}, "axis": {"title": "2θ / °", "format": "d", "tickCount": 200, "labelOverlap": false, "values": [20,30,40,50,60,70,80,90,100,110,120,130,140,150], "labelExpr": "datum.value % 20 === 0 ? datum.label : ''", "titleX": 161.5, "titleY": 25.7}}},
 "layer": [
  {"data": {"name": "n1"}, "mark": {"type": "line", "color": "#111", "strokeWidth": 4, "clip": true}, "encoding": {"y": {"field": "o", "type": "quantitative", "scale": {"domain": [-875, 6660], "nice": false, "zero": false}, "axis": {"title": "intensity", "format": "d", "tickCount": 200, "labelOverlap": false, "values": [-500,0,500,1000,1500,2000,2500,3000,3500,4000,4500,5000,5500,6000,6500], "labelExpr": "datum.value >= 0 && datum.value % 1000 === 0 ? datum.label : ''", "titleX": -46.5, "titleY": 122}}}},
  {"data": {"name": "n1"}, "mark": {"type": "line", "color": "#a3a3a3", "strokeWidth": 2, "clip": true}, "encoding": {"y": {"field": "c", "type": "quantitative"}}},
  {"data": {"name": "dn1"}, "mark": {"type": "line", "color": "#5a5a5a", "strokeWidth": 3, "clip": true}, "encoding": {"y": {"field": "d", "type": "quantitative"}}},
  {"data": {"name": "tn1"}, "mark": {"type": "rule", "color": "#222", "strokeWidth": 2}, "encoding": {"y": {"datum": -590, "type": "quantitative"}, "y2": {"datum": -845}}},
  {"data": {"values": [{"x": 81.2, "y": 5047, "t": "neutron data\nx = 1"}]}, "mark": {"type": "text"}, "encoding": {"y": {"field": "y", "type": "quantitative"}, "text": {"field": "t"}}}
 ]},
{"width": 316, "height": 245,
 "encoding": {"x": {"field": "x", "type": "quantitative", "scale": {"domain": [21.7, 102.1], "nice": false, "zero": false}, "axis": {"title": "2θ / °", "format": "d", "tickCount": 200, "labelOverlap": false, "values": [30,40,50,60,70,80,90,100], "labelExpr": "datum.value % 20 === 0 ? datum.label : ''", "titleX": 158, "titleY": 24.7}}},
 "layer": [
  {"data": {"name": "x1"}, "mark": {"type": "line", "color": "#111", "strokeWidth": 3.2, "clip": true}, "encoding": {"y": {"field": "o", "type": "quantitative", "scale": {"domain": [-2105, 19130], "nice": false, "zero": false}, "axis": {"title": "intensity", "format": "d", "tickCount": 200, "labelOverlap": false, "values": [-2000,-1000,0,1000,2000,3000,4000,5000,6000,7000,8000,9000,10000,11000,12000,13000,14000,15000,16000,17000,18000], "labelExpr": "datum.value >= 0 && datum.value % 2000 === 0 ? datum.label : ''", "titleX": -46.5, "titleY": 122.5}}}},
  {"data": {"name": "x1"}, "mark": {"type": "line", "color": "#a3a3a3", "strokeWidth": 1.8, "clip": true}, "encoding": {"y": {"field": "c", "type": "quantitative"}}},
  {"data": {"name": "dx1"}, "mark": {"type": "line", "color": "#222", "strokeWidth": 1.3, "clip": true}, "encoding": {"y": {"field": "d", "type": "quantitative"}}},
  {"data": {"name": "tx1"}, "mark": {"type": "rule", "color": "#111", "strokeWidth": 2}, "encoding": {"y": {"datum": -1500, "type": "quantitative"}, "y2": {"datum": -2105}}},
  {"data": {"values": [{"x": 68.1, "y": 14820, "t": "X-ray data\nx = 1"}]}, "mark": {"type": "text", "lineHeight": 30}, "encoding": {"y": {"field": "y", "type": "quantitative"}, "text": {"field": "t"}}}
 ]},
{"width": 328, "height": 239,
 "encoding": {"x": {"field": "x", "type": "quantitative", "scale": {"domain": [20, 154], "nice": false, "zero": false}, "axis": {"title": "2θ / °", "format": "d", "tickCount": 200, "labelOverlap": false, "values": [20,30,40,50,60,70,80,90,100,110,120,130,140,150], "labelExpr": "datum.value % 20 === 0 ? datum.label : ''", "titleX": 164, "titleY": 25.7}}},
 "layer": [
  {"data": {"name": "n2"}, "mark": {"type": "line", "color": "#111", "strokeWidth": 4, "clip": true}, "encoding": {"y": {"field": "o", "type": "quantitative", "scale": {"domain": [-790, 8175], "nice": false, "zero": false}, "axis": {"title": "intensity", "format": "d", "tickCount": 200, "labelOverlap": false, "values": [-500,0,500,1000,1500,2000,2500,3000,3500,4000,4500,5000,5500,6000,6500,7000,7500,8000], "labelExpr": "datum.value >= 0 && datum.value % 1000 === 0 ? datum.label : ''", "titleX": -46.5, "titleY": 119.5}}}},
  {"data": {"name": "n2"}, "mark": {"type": "line", "color": "#a3a3a3", "strokeWidth": 2, "clip": true}, "encoding": {"y": {"field": "c", "type": "quantitative"}}},
  {"data": {"name": "dn2"}, "mark": {"type": "line", "color": "#5a5a5a", "strokeWidth": 3, "clip": true}, "encoding": {"y": {"field": "d", "type": "quantitative"}}},
  {"data": {"name": "tn2"}, "mark": {"type": "rule", "color": "#222", "strokeWidth": 2}, "encoding": {"y": {"datum": -410, "type": "quantitative"}, "y2": {"datum": -625}}},
  {"data": {"values": [{"x": 81.2, "y": 6219, "t": "neutron data\nx = 2"}]}, "mark": {"type": "text"}, "encoding": {"y": {"field": "y", "type": "quantitative"}, "text": {"field": "t"}}}
 ]},
{"width": 316, "height": 239,
 "encoding": {"x": {"field": "x", "type": "quantitative", "scale": {"domain": [21.7, 102.1], "nice": false, "zero": false}, "axis": {"title": "2θ / °", "format": "d", "tickCount": 200, "labelOverlap": false, "values": [30,40,50,60,70,80,90,100], "labelExpr": "datum.value % 20 === 0 ? datum.label : ''", "titleX": 158, "titleY": 25.7}}},
 "layer": [
  {"data": {"name": "x2"}, "mark": {"type": "line", "color": "#111", "strokeWidth": 3.2, "clip": true}, "encoding": {"y": {"field": "o", "type": "quantitative", "scale": {"domain": [-1865, 14480], "nice": false, "zero": false}, "axis": {"title": "intensity", "format": "d", "tickCount": 200, "labelOverlap": false, "values": [-1000,0,1000,2000,3000,4000,5000,6000,7000,8000,9000,10000,11000,12000,13000,14000], "labelExpr": "datum.value >= 0 && datum.value % 2000 === 0 ? datum.label : ''", "titleX": -46.5, "titleY": 119.5}}}},
  {"data": {"name": "x2"}, "mark": {"type": "line", "color": "#a3a3a3", "strokeWidth": 1.8, "clip": true}, "encoding": {"y": {"field": "c", "type": "quantitative"}}},
  {"data": {"name": "dx2"}, "mark": {"type": "line", "color": "#222", "strokeWidth": 1.3, "clip": true}, "encoding": {"y": {"field": "d", "type": "quantitative"}}},
  {"data": {"name": "tx2"}, "mark": {"type": "rule", "color": "#111", "strokeWidth": 2}, "encoding": {"y": {"datum": -1190, "type": "quantitative"}, "y2": {"datum": -1865}}},
  {"data": {"values": [{"x": 68.1, "y": 11220, "t": "X-ray data\nx = 2"}]}, "mark": {"type": "text"}, "encoding": {"y": {"field": "y", "type": "quantitative"}, "text": {"field": "t"}}}
 ]},
{"width": 323, "height": 251,
 "encoding": {"x": {"field": "x", "type": "quantitative", "scale": {"domain": [20, 152], "nice": false, "zero": false}, "axis": {"title": "2θ / °", "format": "d", "tickCount": 200, "labelOverlap": false, "values": [20,30,40,50,60,70,80,90,100,110,120,130,140,150], "labelExpr": "datum.value % 20 === 0 ? datum.label : ''", "titleX": 161.5, "titleY": 23}}},
 "layer": [
  {"data": {"name": "n3"}, "mark": {"type": "line", "color": "#111", "strokeWidth": 4, "clip": true}, "encoding": {"y": {"field": "o", "type": "quantitative", "scale": {"domain": [-2500, 12430], "nice": false, "zero": false}, "axis": {"title": "intensity", "format": "d", "tickCount": 200, "labelOverlap": false, "values": [-2000,-1000,0,1000,2000,3000,4000,5000,6000,7000,8000,9000,10000,11000,12000], "labelExpr": "datum.value >= 0 && datum.value % 2000 === 0 ? datum.label : ''", "titleX": -46.5, "titleY": 125.5}}}},
  {"data": {"name": "n3"}, "mark": {"type": "line", "color": "#a3a3a3", "strokeWidth": 2, "clip": true}, "encoding": {"y": {"field": "c", "type": "quantitative"}}},
  {"data": {"name": "dn3"}, "mark": {"type": "line", "color": "#5a5a5a", "strokeWidth": 3, "clip": true}, "encoding": {"y": {"field": "d", "type": "quantitative"}}},
  {"data": {"name": "tn3"}, "mark": {"type": "rule", "color": "#222", "strokeWidth": 2}, "encoding": {"y": {"datum": -1745, "type": "quantitative"}, "y2": {"datum": -2180}}},
  {"data": {"values": [{"x": 81.2, "y": 8839, "t": "neutron data\nx = 3"}]}, "mark": {"type": "text"}, "encoding": {"y": {"field": "y", "type": "quantitative"}, "text": {"field": "t"}}}
 ]},
{"width": 316, "height": 242,
 "encoding": {"x": {"field": "x", "type": "quantitative", "scale": {"domain": [21.7, 102.1], "nice": false, "zero": false}, "axis": {"title": "2θ / °", "format": "d", "tickCount": 200, "labelOverlap": false, "values": [30,40,50,60,70,80,90,100], "labelExpr": "datum.value % 20 === 0 ? datum.label : ''", "titleX": 158, "titleY": 32}}},
 "layer": [
  {"data": {"name": "x3"}, "mark": {"type": "line", "color": "#111", "strokeWidth": 3.2, "clip": true}, "encoding": {"y": {"field": "o", "type": "quantitative", "scale": {"domain": [-3405, 20830], "nice": false, "zero": false}, "axis": {"title": "intensity", "format": "d", "tickCount": 200, "labelOverlap": false, "values": [-2500,0,2500,5000,7500,10000,12500,15000,17500,20000], "labelExpr": "datum.value >= 0 && datum.value % 5000 === 0 ? datum.label : ''", "titleX": -46.5, "titleY": 121}}}},
  {"data": {"name": "x3"}, "mark": {"type": "line", "color": "#a3a3a3", "strokeWidth": 1.8, "clip": true}, "encoding": {"y": {"field": "c", "type": "quantitative"}}},
  {"data": {"name": "dx3"}, "mark": {"type": "line", "color": "#222", "strokeWidth": 1.3, "clip": true}, "encoding": {"y": {"field": "d", "type": "quantitative"}}},
  {"data": {"name": "tx3"}, "mark": {"type": "rule", "color": "#111", "strokeWidth": 2}, "encoding": {"y": {"datum": -2600, "type": "quantitative"}, "y2": {"datum": -3405}}},
  {"data": {"values": [{"x": 68.1, "y": 15115, "t": "X-ray data\nx = 3"}]}, "mark": {"type": "text"}, "encoding": {"y": {"field": "y", "type": "quantitative"}, "text": {"field": "t"}}}
 ]},
{"width": 323, "height": 232,
 "encoding": {"x": {"field": "x", "type": "quantitative", "scale": {"domain": [20, 152], "nice": false, "zero": false}, "axis": {"title": "2θ / °", "format": "d", "tickCount": 200, "labelOverlap": false, "values": [20,30,40,50,60,70,80,90,100,110,120,130,140,150], "labelExpr": "datum.value % 20 === 0 ? datum.label : ''", "titleX": 161.5, "titleY": 37.7}}},
 "layer": [
  {"data": {"name": "n6"}, "mark": {"type": "line", "color": "#111", "strokeWidth": 4, "clip": true}, "encoding": {"y": {"field": "o", "type": "quantitative", "scale": {"domain": [-955, 8680], "nice": false, "zero": false}, "axis": {"title": "intensity", "format": "d", "tickCount": 200, "labelOverlap": false, "values": [0,1000,2000,3000,4000,5000,6000,7000,8000], "labelExpr": "datum.value >= 0 && datum.value % 2000 === 0 ? datum.label : ''", "titleX": -46.5, "titleY": 116}}}},
  {"data": {"name": "n6"}, "mark": {"type": "line", "color": "#a3a3a3", "strokeWidth": 2, "clip": true}, "encoding": {"y": {"field": "c", "type": "quantitative"}}},
  {"data": {"name": "dn6"}, "mark": {"type": "line", "color": "#5a5a5a", "strokeWidth": 3, "clip": true}, "encoding": {"y": {"field": "d", "type": "quantitative"}}},
  {"data": {"name": "tn6"}, "mark": {"type": "rule", "color": "#222", "strokeWidth": 2}, "encoding": {"y": {"datum": -470, "type": "quantitative"}, "y2": {"datum": -790}}},
  {"data": {"values": [{"x": 81.2, "y": 6383, "t": "neutron data\nx = 6"}]}, "mark": {"type": "text"}, "encoding": {"y": {"field": "y", "type": "quantitative"}, "text": {"field": "t"}}}
 ]},
{"width": 316, "height": 232,
 "encoding": {"x": {"field": "x", "type": "quantitative", "scale": {"domain": [23.8, 100.5], "nice": false, "zero": false}, "axis": {"title": "2θ / °", "format": "d", "tickCount": 200, "labelOverlap": false, "values": [25,30,35,40,45,50,55,60,65,70,75,80,85,90,95,100], "labelExpr": "datum.value % 10 === 0 ? datum.label : ''", "titleX": 158, "titleY": 37.7}}},
 "layer": [
  {"data": {"name": "x6"}, "mark": {"type": "line", "color": "#111", "strokeWidth": 3.2, "clip": true}, "encoding": {"y": {"field": "o", "type": "quantitative", "scale": {"domain": [-2010, 18000], "nice": false, "zero": false}, "axis": {"title": "intensity", "format": "d", "tickCount": 200, "labelOverlap": false, "values": [-2000,-1000,0,1000,2000,3000,4000,5000,6000,7000,8000,9000,10000,11000,12000,13000,14000,15000,16000,17000,18000], "labelExpr": "datum.value >= 0 && datum.value % 2000 === 0 ? datum.label : ''", "titleX": -46.5, "titleY": 116}}}},
  {"data": {"name": "x6"}, "mark": {"type": "line", "color": "#a3a3a3", "strokeWidth": 1.8, "clip": true}, "encoding": {"y": {"field": "c", "type": "quantitative"}}},
  {"data": {"name": "dx6"}, "mark": {"type": "line", "color": "#222", "strokeWidth": 1.3, "clip": true}, "encoding": {"y": {"field": "d", "type": "quantitative"}}},
  {"data": {"name": "tx6"}, "mark": {"type": "rule", "color": "#111", "strokeWidth": 2}, "encoding": {"y": {"datum": -1230, "type": "quantitative"}, "y2": {"datum": -2010}}},
  {"data": {"values": [{"x": 68.6, "y": 13410, "t": "X-ray data\nx = 6"}]}, "mark": {"type": "text"}, "encoding": {"y": {"field": "y", "type": "quantitative"}, "text": {"field": "t"}}}
 ]},
{"width": 323, "height": 248,
 "encoding": {"x": {"field": "x", "type": "quantitative", "scale": {"domain": [20, 152], "nice": false, "zero": false}, "axis": {"title": "2θ / °", "format": "d", "tickCount": 200, "labelOverlap": false, "values": [20,30,40,50,60,70,80,90,100,110,120,130,140,150], "labelExpr": "datum.value % 20 === 0 ? datum.label : ''", "titleX": 161.5, "titleY": 24}}},
 "layer": [
  {"data": {"name": "n11"}, "mark": {"type": "line", "color": "#111", "strokeWidth": 4.5, "clip": true}, "encoding": {"y": {"field": "o", "type": "quantitative", "scale": {"domain": [-825, 4695], "nice": false, "zero": false}, "axis": {"title": "intensity", "format": "d", "tickCount": 200, "labelOverlap": false, "values": [-500,0,500,1000,1500,2000,2500,3000,3500,4000,4500], "labelExpr": "datum.value >= 0 ? datum.label : ''", "titleX": -46.5, "titleY": 124}}}},
  {"data": {"name": "n11"}, "mark": {"type": "line", "color": "#a3a3a3", "strokeWidth": 2, "clip": true}, "encoding": {"y": {"field": "c", "type": "quantitative"}}},
  {"data": {"name": "dn11"}, "mark": {"type": "line", "color": "#5a5a5a", "strokeWidth": 3.5, "clip": true}, "encoding": {"y": {"field": "d", "type": "quantitative"}}},
  {"data": {"name": "tn11"}, "mark": {"type": "rule", "color": "#222", "strokeWidth": 2}, "encoding": {"y": {"datum": -445, "type": "quantitative"}, "y2": {"datum": -615}}},
  {"data": {"values": [{"x": 81.2, "y": 3140, "t": "neutron data\nx = 11"}]}, "mark": {"type": "text"}, "encoding": {"y": {"field": "y", "type": "quantitative"}, "text": {"field": "t"}}}
 ]},
{"width": 316, "height": 244,
 "encoding": {"x": {"field": "x", "type": "quantitative", "scale": {"domain": [23.8, 100.5], "nice": false, "zero": false}, "axis": {"title": "2θ / °", "format": "d", "tickCount": 200, "labelOverlap": false, "values": [25,30,35,40,45,50,55,60,65,70,75,80,85,90,95,100], "labelExpr": "datum.value % 10 === 0 ? datum.label : ''", "titleX": 158, "titleY": 28.7}}},
 "layer": [
  {"data": {"name": "x11"}, "mark": {"type": "line", "color": "#111", "strokeWidth": 3.2, "clip": true}, "encoding": {"y": {"field": "o", "type": "quantitative", "scale": {"domain": [-1020, 8430], "nice": false, "zero": false}, "axis": {"title": "intensity", "format": "d", "tickCount": 200, "labelOverlap": false, "values": [-1000,-500,0,500,1000,1500,2000,2500,3000,3500,4000,4500,5000,5500,6000,6500,7000,7500,8000], "labelExpr": "datum.value >= 0 && datum.value % 1000 === 0 ? datum.label : ''", "titleX": -46.5, "titleY": 122}}}},
  {"data": {"name": "x11"}, "mark": {"type": "line", "color": "#a3a3a3", "strokeWidth": 1.8, "clip": true}, "encoding": {"y": {"field": "c", "type": "quantitative"}}},
  {"data": {"name": "dx11"}, "mark": {"type": "line", "color": "#222", "strokeWidth": 1.3, "clip": true}, "encoding": {"y": {"field": "d", "type": "quantitative"}}},
  {"data": {"name": "tx11"}, "mark": {"type": "rule", "color": "#111", "strokeWidth": 2}, "encoding": {"y": {"datum": -680, "type": "quantitative"}, "y2": {"datum": -1020}}},
  {"data": {"values": [{"x": 68.6, "y": 5740, "t": "X-ray data\nx = 11"}]}, "mark": {"type": "text"}, "encoding": {"y": {"field": "y", "type": "quantitative"}, "text": {"field": "t"}}}
 ]}
]
}
